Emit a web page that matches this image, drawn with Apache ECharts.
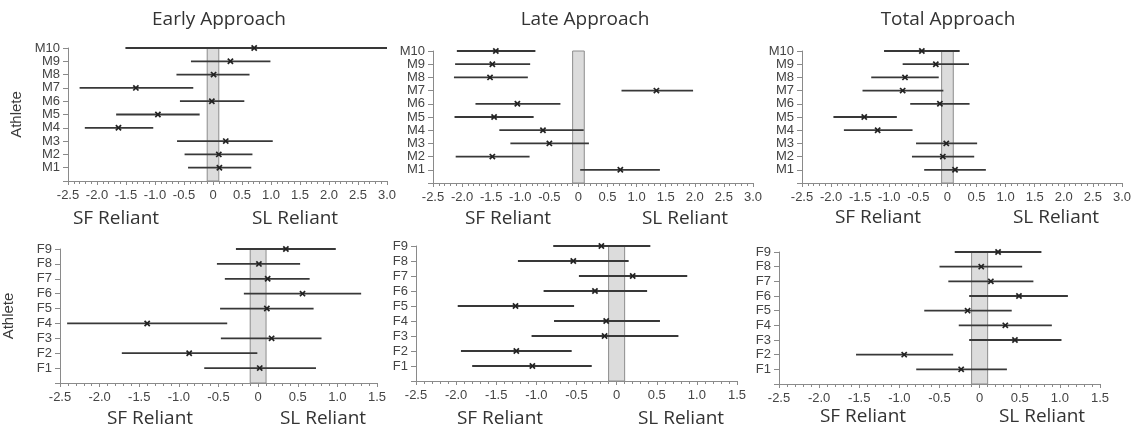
<!DOCTYPE html>
<html>
<head>
<meta charset="utf-8">
<script src="https://cdn.jsdelivr.net/npm/echarts@6/dist/echarts.min.js"></script>
<style>
  html, body { margin: 0; padding: 0; background: #fff; }
  #chart { width: 1135px; height: 429px; }
</style>
</head>
<body>
<div id="chart"></div>
<script>
// athletes, bottom to top
var maleAthletes = ['M1', 'M2', 'M3', 'M4', 'M5', 'M6', 'M7', 'M8', 'M9', 'M10']
var femaleAthletes = ['F1', 'F2', 'F3', 'F4', 'F5', 'F6', 'F7', 'F8', 'F9']

var maleTicks = [-2.5, 3.0]
var femaleTicks = [-2.5, 1.5]

// Early approach, males
var earlyM = [0.11, 0.10, 0.22, -1.63, -0.95, -0.02, -1.33, 0.01, 0.30, 0.71]
var earlyMLow = [-0.43, -0.49, -0.62, -2.21, -1.67, -0.57, -2.30, -0.63, -0.38, -1.51]
var earlyMHigh = [0.66, 0.68, 1.03, -1.03, -0.23, 0.54, -0.34, 0.63, 0.99, 3.0]

// Late approach, males
var lateM = [0.72, -1.48, -0.50, -0.61, -1.45, -1.05, 1.34, -1.52, -1.48, -1.42]
var lateMLow = [0.03, -2.11, -1.17, -1.36, -2.13, -1.77, 0.74, -2.14, -2.12, -2.09]
var lateMHigh = [1.40, -0.84, 0.18, 0.09, -0.77, -0.31, 1.97, -0.87, -0.83, -0.74]

// Total approach, males
var totalM = [0.13, -0.08, -0.02, -1.20, -1.43, -0.13, -0.77, -0.73, -0.20, -0.44]
var totalMLow = [-0.40, -0.61, -0.54, -1.78, -1.96, -0.64, -1.46, -1.31, -0.77, -1.09]
var totalMHigh = [0.66, 0.46, 0.51, -0.60, -0.87, 0.38, -0.07, -0.15, 0.37, 0.21]

// Early approach, females
var earlyF = [0.02, -0.87, 0.17, -1.40, 0.11, 0.56, 0.12, 0.01, 0.35]
var earlyFLow = [-0.68, -1.72, -0.47, -2.41, -0.48, -0.18, -0.42, -0.52, -0.28]
var earlyFHigh = [0.73, -0.01, 0.80, -0.39, 0.70, 1.30, 0.65, 0.53, 0.98]

// Late approach, females
var lateF = [-1.05, -1.25, -0.15, -0.13, -1.26, -0.27, 0.20, -0.54, -0.19]
var lateFLow = [-1.80, -1.94, -1.06, -0.78, -1.98, -0.91, -0.47, -1.23, -0.79]
var lateFHigh = [-0.31, -0.56, 0.77, 0.54, -0.53, 0.38, 0.88, 0.15, 0.42]

// Total approach, females
var totalF = [-0.23, -0.94, 0.44, 0.32, -0.15, 0.49, 0.14, 0.02, 0.23]
var totalFLow = [-0.79, -1.54, -0.13, -0.26, -0.69, -0.13, -0.39, -0.50, -0.31]
var totalFHigh = [0.34, -0.33, 1.02, 0.90, 0.40, 1.10, 0.67, 0.53, 0.77]

// neutral band round zero
var bandRange = [-0.1, 0.1]

var panels = [
  { names: maleAthletes, est: earlyM, lo: earlyMLow, hi: earlyMHigh, ticks: maleTicks, grid: { left: 68, top: 48, width: 319, height: 133 } },
  { names: maleAthletes, est: lateM, lo: lateMLow, hi: lateMHigh, ticks: maleTicks, grid: { left: 433, top: 51, width: 320, height: 132 } },
  { names: maleAthletes, est: totalM, lo: totalMLow, hi: totalMHigh, ticks: maleTicks, grid: { left: 802, top: 51, width: 320, height: 132 } },
  { names: femaleAthletes, est: earlyF, lo: earlyFLow, hi: earlyFHigh, ticks: femaleTicks, grid: { left: 54, top: 249, width: 323, height: 134 } },
  { names: femaleAthletes, est: lateF, lo: lateFLow, hi: lateFHigh, ticks: femaleTicks, grid: { left: 416, top: 246, width: 321, height: 135 } },
  { names: femaleAthletes, est: totalF, lo: totalFLow, hi: totalFHigh, ticks: femaleTicks, grid: { left: 779, top: 252, width: 321, height: 132 } }
]

var axisGray = '#8a8a8a'
var labelFont = { fontFamily: 'Liberation Sans', fontSize: 13, color: '#444' }

function renderBar (params, api) {
  var y = api.value(0)
  var lo = api.coord([api.value(1), y])
  var hi = api.coord([api.value(2), y])
  var pt = api.coord([api.value(3), y])
  var s = 2.6
  var xStyle = { stroke: '#222', lineWidth: 1.7 }
  return {
    type: 'group',
    children: [
      { type: 'line', shape: { x1: lo[0], y1: lo[1], x2: hi[0], y2: hi[1] }, style: { stroke: '#383838', lineWidth: 1.8 } },
      { type: 'line', shape: { x1: pt[0] - s, y1: pt[1] - s, x2: pt[0] + s, y2: pt[1] + s }, style: xStyle },
      { type: 'line', shape: { x1: pt[0] - s, y1: pt[1] + s, x2: pt[0] + s, y2: pt[1] - s }, style: xStyle }
    ]
  }
}

var grids = []
var xAxes = []
var yAxes = []
var series = []

panels.forEach(function (p, i) {
  var n = p.names.length
  grids.push(p.grid)
  xAxes.push({
    gridIndex: i,
    type: 'value',
    min: p.ticks[0],
    max: p.ticks[1],
    interval: 0.5,
    axisLine: { lineStyle: { color: axisGray, width: 1 } },
    axisTick: { length: 4, lineStyle: { color: axisGray } },
    minorTick: { show: true, splitNumber: 5, length: 3, lineStyle: { color: axisGray } },
    splitLine: { show: false },
    axisLabel: Object.assign({
      margin: 8,
      formatter: function (v) { return Math.abs(v) < 1e-9 ? '0' : v.toFixed(1) }
    }, labelFont)
  })
  yAxes.push({
    gridIndex: i,
    type: 'value',
    min: 0,
    max: n,
    interval: 1,
    name: (i === 0 || i === 3) ? 'Athlete' : '',
    nameLocation: 'middle',
    nameGap: 44,
    nameRotate: 90,
    nameTextStyle: { fontFamily: 'Liberation Sans', fontSize: 15, color: '#3a3a3a' },
    axisLine: { onZero: false, lineStyle: { color: axisGray, width: 1 } },
    axisTick: { length: 5, lineStyle: { color: axisGray } },
    splitLine: { show: false },
    axisLabel: Object.assign({
      margin: 8,
      formatter: function (v) { return v >= 1 ? p.names[v - 1] : '' }
    }, labelFont)
  })
  series.push({
    type: 'custom',
    xAxisIndex: i,
    yAxisIndex: i,
    clip: false,
    renderItem: renderBar,
    data: p.names.map(function (name, k) {
      return [k + 1, p.lo[k], p.hi[k], p.est[k]]
    }),
    markArea: {
      silent: true,
      itemStyle: { color: '#dcdcdc', borderColor: '#8c8c8c', borderWidth: 1 },
      data: [[{ xAxis: bandRange[0], yAxis: 0 }, { xAxis: bandRange[1], yAxis: n }]]
    },
    z: 3
  })
})

var headFont = { fontFamily: 'Open Sans', fontSize: 19, fill: '#333' }

function text (str, x, y) {
  return {
    type: 'text',
    x: x,
    y: y,
    style: Object.assign({ text: str, textAlign: 'center', textVerticalAlign: 'middle' }, headFont)
  }
}

var graphics = [
  text('Early Approach', 219, 20),
  text('Late Approach', 585, 20),
  text('Total Approach', 948, 20),
  text('SF Reliant', 116, 219),
  text('SL Reliant', 295, 219),
  text('SF Reliant', 508, 219),
  text('SL Reliant', 685, 219),
  text('SF Reliant', 878, 218),
  text('SL Reliant', 1056, 218),
  text('SF Reliant', 150, 419),
  text('SL Reliant', 323, 419),
  text('SF Reliant', 500, 419),
  text('SL Reliant', 681, 419),
  text('SF Reliant', 863, 417),
  text('SL Reliant', 1042, 417)
]

var myChart = echarts.init(document.getElementById('chart'))
myChart.setOption({
  animation: false,
  backgroundColor: '#fff',
  grid: grids,
  xAxis: xAxes,
  yAxis: yAxes,
  series: series,
  graphic: graphics
})
</script>
</body>
</html>
